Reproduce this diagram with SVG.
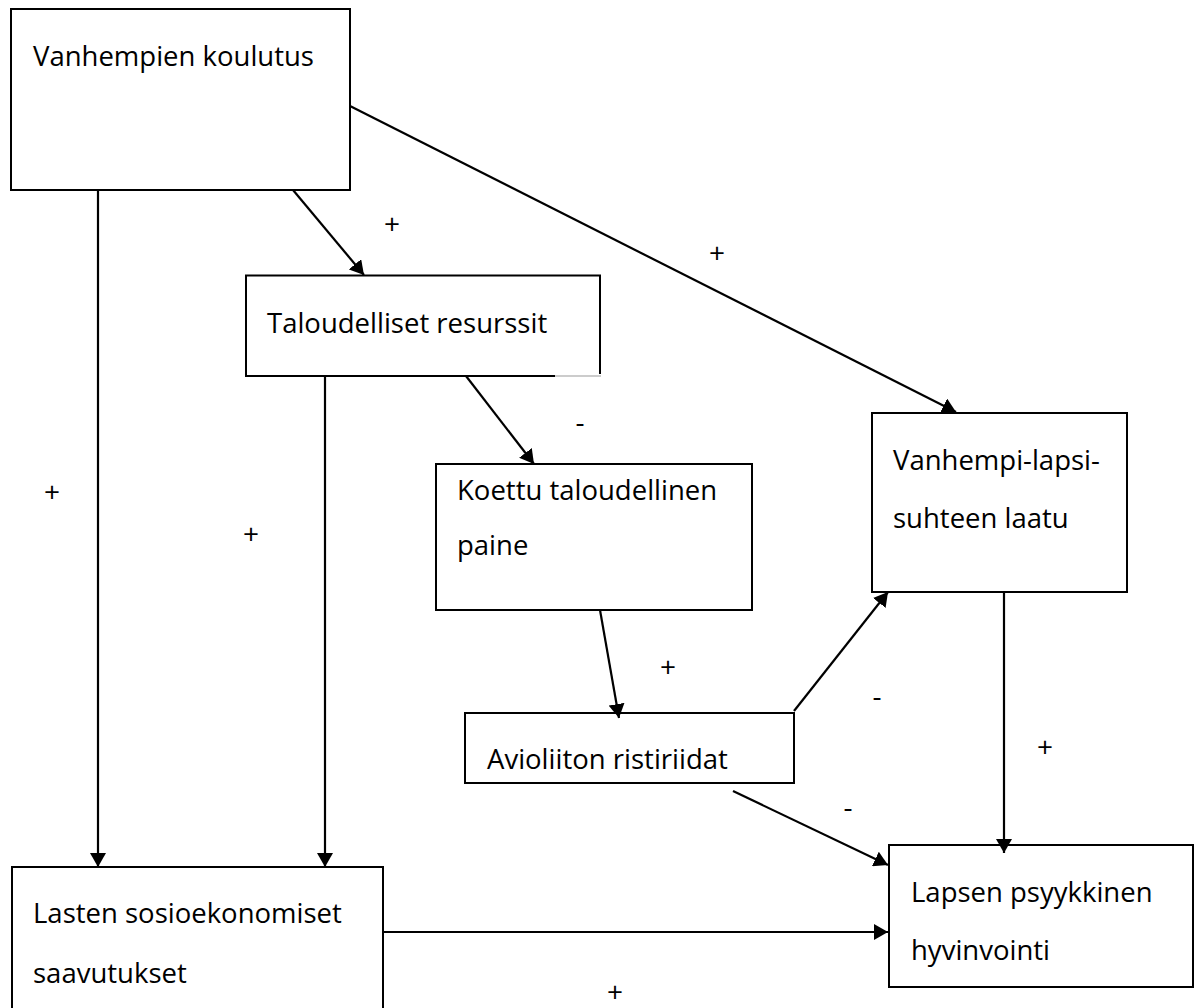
<svg xmlns="http://www.w3.org/2000/svg" width="1200" height="1008" viewBox="0 0 1200 1008">
<style>
.box{fill:#fff;stroke:#000;stroke-width:2}
.t{font-family:"Open Sans","Liberation Sans",sans-serif;font-size:27.5px;fill:#000}
.lbl{font-family:"Open Sans","Liberation Sans",sans-serif;font-size:28px;fill:#000;text-anchor:middle}
.c{stroke:#000;stroke-width:2.2;fill:none;marker-end:url(#ah)}
</style>
<defs>
<marker id="ah" viewBox="0 0 14 16" refX="14" refY="8" markerWidth="14" markerHeight="16" markerUnits="userSpaceOnUse" orient="auto">
<path d="M0,0 L14,8 L0,16 z" fill="#000"/>
</marker>
</defs>
<rect width="1200" height="1008" fill="#fff"/>
<g id="n-koulutus">
<rect class="box" x="11" y="9" width="339" height="181"/>
<text class="t" x="33" y="66">Vanhempien koulutus</text>
</g>
<g id="n-resurssit">
<rect x="246" y="275.5" width="354" height="100.5" fill="#fff"/>
<path d="M555,376 H246 V275.5 H600 V374" fill="none" stroke="#000" stroke-width="2"/>
<path d="M555,376 H601" fill="none" stroke="#bbb" stroke-width="1.5"/>
<text class="t" x="267" y="333">Taloudelliset resurssit</text>
</g>
<g id="n-paine">
<rect class="box" x="436" y="464" width="316" height="146"/>
<text class="t" x="457" y="500">Koettu taloudellinen</text>
<text class="t" x="457" y="555">paine</text>
</g>
<g id="n-suhde">
<rect class="box" x="872" y="413" width="255" height="179"/>
<text class="t" x="893" y="470">Vanhempi-lapsi-</text>
<text class="t" x="893" y="528">suhteen laatu</text>
</g>
<g id="n-ristiriidat">
<rect class="box" x="465" y="713" width="329" height="70"/>
<text class="t" x="487" y="769">Avioliiton ristiriidat</text>
</g>
<g id="n-saavutukset">
<rect class="box" x="12" y="867" width="371" height="145"/>
<text class="t" x="33" y="923">Lasten sosioekonomiset</text>
<text class="t" x="33" y="983">saavutukset</text>
</g>
<g id="n-hyvinvointi">
<rect class="box" x="889" y="845" width="304" height="142"/>
<text class="t" x="911" y="902">Lapsen psyykkinen</text>
<text class="t" x="911" y="960">hyvinvointi</text>
</g>
<g id="connectors">
<line class="c" x1="98" y1="190" x2="98" y2="867"/>
<line class="c" x1="325" y1="376" x2="325" y2="867"/>
<line class="c" x1="293" y1="190" x2="364" y2="275"/>
<line class="c" x1="350" y1="106" x2="956" y2="412"/>
<line class="c" x1="466" y1="376" x2="534" y2="464"/>
<line class="c" x1="600" y1="610" x2="619" y2="718"/>
<line class="c" x1="794" y1="711" x2="888" y2="592"/>
<line class="c" x1="733" y1="791" x2="888" y2="865"/>
<line class="c" x1="1004" y1="592" x2="1004" y2="853"/>
<line class="c" x1="383" y1="932" x2="888" y2="932"/>
</g>
<g id="labels">
<text class="lbl" x="392" y="234">+</text>
<text class="lbl" x="717" y="263">+</text>
<text class="lbl" x="580" y="432">-</text>
<text class="lbl" x="52" y="502">+</text>
<text class="lbl" x="251" y="544">+</text>
<text class="lbl" x="668" y="677">+</text>
<text class="lbl" x="877" y="706">-</text>
<text class="lbl" x="1045" y="757">+</text>
<text class="lbl" x="848" y="817">-</text>
<text class="lbl" x="615" y="1002">+</text>
</g>
</svg>
